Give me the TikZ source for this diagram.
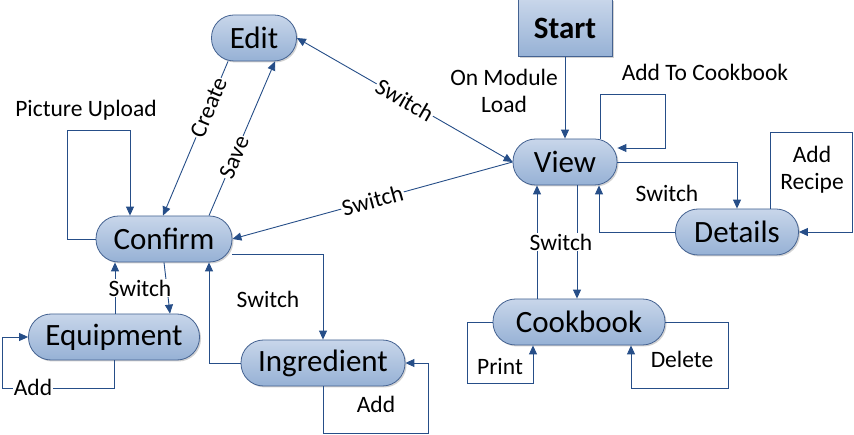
\documentclass[tikz,border=0pt]{standalone}
\usepackage{fontspec}
\setmainfont{Carlito}
\usetikzlibrary{arrows.meta,shadows}
\definecolor{edgeblue}{RGB}{38,78,136}
\definecolor{rimblue}{RGB}{68,98,145}
\definecolor{topblue}{RGB}{200,214,234}
\definecolor{botblue}{RGB}{150,177,213}
\tikzset{
  statenode/.style={rectangle, rounded corners=22.5pt, draw=rimblue, line width=0.8pt,
    top color=topblue, bottom color=botblue, minimum height=46pt,
    drop shadow={shadow xshift=1.5pt, shadow yshift=-1.5pt, fill=black!35},
    font=\fontsize{31}{33}\selectfont},
  startbox/.style={rectangle, draw=rimblue, line width=0.8pt,
    top color=topblue, bottom color=botblue, minimum height=57pt, minimum width=94pt,
    drop shadow={shadow xshift=1.5pt, shadow yshift=-1.5pt, fill=black!35},
    font=\fontsize{31}{33}\selectfont\bfseries},
  link/.style={draw=edgeblue, line width=0.9pt, -{Triangle[length=9pt,width=8pt]}},
  lbl/.style={font=\fontsize{23.5}{27}\selectfont, inner sep=1pt}
}
\begin{document}
\begin{tikzpicture}[x=1pt, y=-1pt]
  \useasboundingbox (0,0) rectangle (854,435);

  % states
  \node[startbox] (start) at (565,28) {Start};
  \node[statenode, minimum width=85pt] (edit) at (254,38) {Edit};
  \node[statenode, minimum width=104pt] (view) at (565,162) {View};
  \node[statenode, minimum width=136pt] (confirm) at (164,239) {Confirm};
  \node[statenode, minimum width=123pt] (details) at (737,232) {Details};
  \node[statenode, minimum width=171pt] (equip) at (114,337) {Equipment};
  \node[statenode, minimum width=164pt] (ingred) at (323,363) {Ingredient};
  \node[statenode, minimum width=172pt] (cookbook) at (579,322) {Cookbook};

  % start
  \draw[link] (start) -- (view);
  \node[lbl, align=center] (loadlbl) at (504,91) {On Module\\Load};

  % view
  \draw[link] ([xshift=35pt]view.north) |- (665,94) |- ([yshift=14pt]view.east);
  \node[lbl] (addcook) at (705,72) {Add To Cookbook};
  \draw[link] (view.east) -| (details.north);
  \draw[link] (details.west) -| ([xshift=34pt]view.south);
  \node[lbl] (detlbl) at (667,193) {Switch};
  \draw[link] ([xshift=33pt]details.north) |- (852,132) |- (details.east);
  \node[lbl, align=center] (recipelbl) at (812,170) {Add\\Recipe};

  % cookbook
  \draw[link] ([xshift=12pt]view.south) -- ([xshift=-2pt]cookbook.north);
  \draw[link] ([xshift=-42pt]cookbook.north) -- ([xshift=-28pt]view.south);
  \node[lbl, fill=white] (cooklbl) at (561,242) {Switch};
  \draw[link] (cookbook.west) -| (467,383) -| ([xshift=-46pt]cookbook.south);
  \node[lbl] (printlbl) at (500,367) {Print};
  \draw[link] (cookbook.east) -| (728,388) -| ([xshift=52pt]cookbook.south);
  \node[lbl] (dellbl) at (682,359) {Delete};

  % edit and confirm
  \draw[link, {Triangle[length=9pt,width=8pt]}-{Triangle[length=9pt,width=8pt]}]
    (view.west) -- (edit.east) node[lbl, midway, sloped, fill=white] {Switch};
  \draw[link] (view.west) -- (confirm.east) node[lbl, midway, sloped, fill=white] {Switch};
  \draw[link] ([xshift=-26pt]edit.south) -- ([xshift=-1pt]confirm.north)
    node[lbl, pos=0.3, sloped, fill=white] {Create};
  \draw[link] ([xshift=45pt]confirm.north) -- ([xshift=21pt]edit.south)
    node[lbl, pos=0.38, sloped, fill=white] {Save};
  \draw[link] (confirm.west) -| (67,130) -| ([xshift=-34pt]confirm.north);
  \node[lbl] (piclbl) at (86,110) {Picture Upload};

  % equipment
  \draw[link] (confirm.south) -- ([xshift=56pt]equip.north);
  \draw[link] ([xshift=1pt]equip.north) -- ([xshift=-49pt]confirm.south);
  \node[lbl, fill=white] (equiplbl) at (140,288) {Switch};
  \draw[link] (equip.south) |- (2,388) |- (equip.west);
  \node[lbl, fill=white] (eqaddlbl) at (33,387) {Add};

  % ingredient
  \draw[link] ([yshift=-15pt]confirm.east) -| (ingred.north);
  \draw[link] (ingred.west) -| ([xshift=45pt]confirm.south);
  \node[lbl] (inglbl) at (268,299) {Switch};
  \draw[link] (ingred.south) |- (428,433) |- (ingred.east);
  \node[lbl] (ingaddlbl) at (376,404) {Add};
\end{tikzpicture}
\end{document}
